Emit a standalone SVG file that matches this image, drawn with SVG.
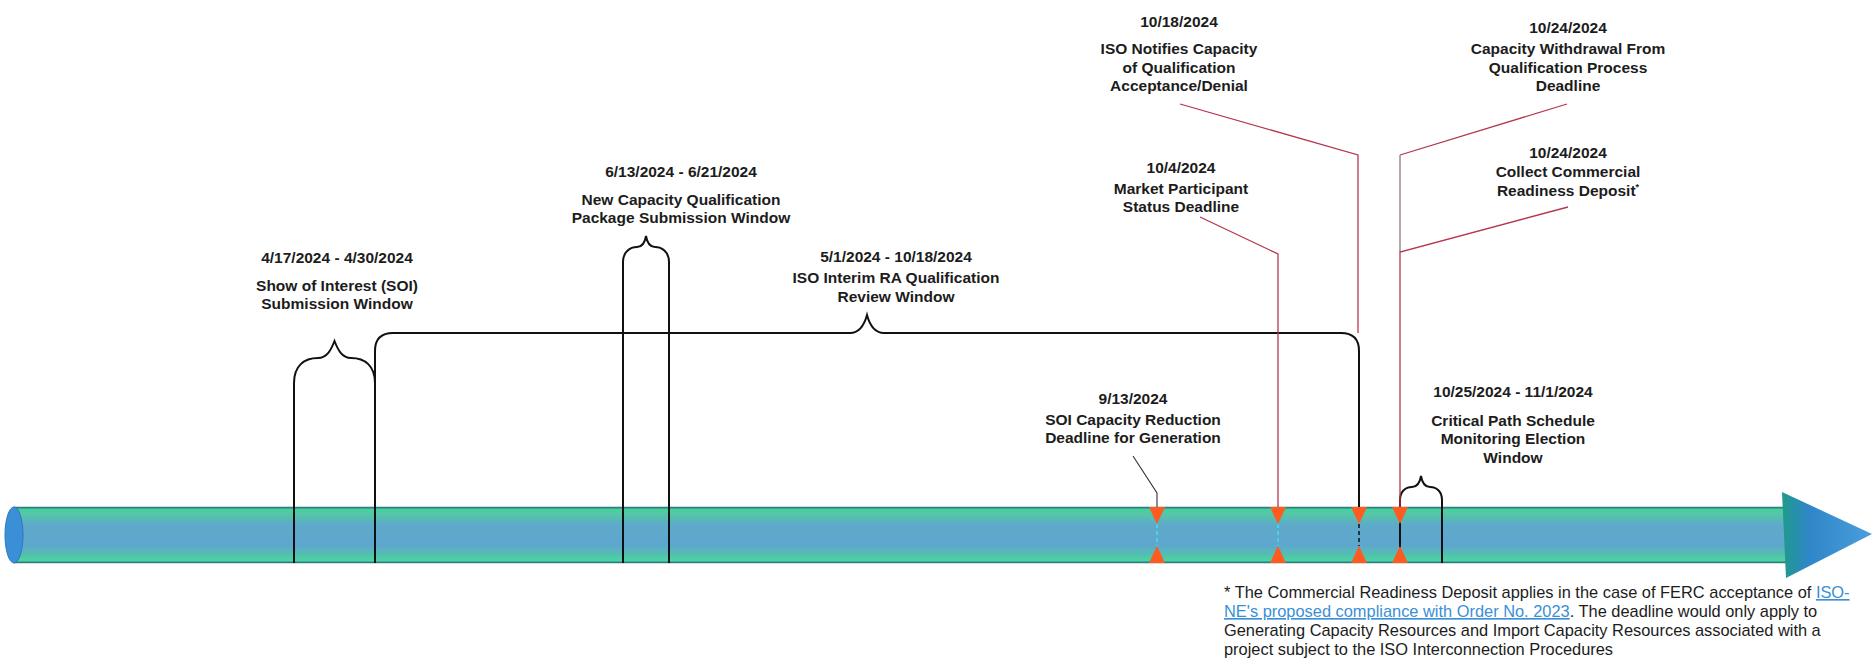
<svg xmlns="http://www.w3.org/2000/svg" width="1872" height="658" viewBox="0 0 1872 658">
<defs>
<linearGradient id="barV" x1="0" y1="0" x2="0" y2="1">
<stop offset="0" stop-color="#2f7b8a"/>
<stop offset="0.04" stop-color="#45d29b"/>
<stop offset="0.13" stop-color="#55c6a6"/>
<stop offset="0.32" stop-color="#5eaaca"/>
<stop offset="0.68" stop-color="#5ea6ce"/>
<stop offset="0.87" stop-color="#53c2ad"/>
<stop offset="0.96" stop-color="#48d89c"/>
<stop offset="1" stop-color="#2f7b8a"/>
</linearGradient>
<linearGradient id="headG" x1="0" y1="0" x2="1" y2="0">
<stop offset="0" stop-color="#1f9a8c"/>
<stop offset="0.3" stop-color="#2f86c8"/>
<stop offset="1" stop-color="#4a9edc"/>
</linearGradient>
<style>
.lbl{font-family:"Liberation Sans",Arial,sans-serif;font-weight:bold;font-size:15.5px;fill:#1c1c1c;text-anchor:middle}
.foot{font-family:"Liberation Sans",Arial,sans-serif;font-size:16.4px;fill:#1c1c1c}
.link{fill:#3a8fd6;text-decoration:underline}
.brk{fill:none;stroke:#111;stroke-width:2}
.tick{stroke:#111;stroke-width:2}
.lead{fill:none;stroke:#b5364f;stroke-width:1.3}
.leadg{fill:none;stroke:#8a7a80;stroke-width:1.3}
.leadk{fill:none;stroke:#333;stroke-width:1.1}
.tri{fill:#ff5a1f}
.dash{stroke:#4fd6f0;stroke-width:1.5;stroke-dasharray:4 3}
</style>
</defs>
<rect width="1872" height="658" fill="#ffffff"/>

<g id="timeline">
<rect x="14" y="507" width="1774" height="56" fill="url(#barV)"/>
<line x1="14" y1="507.5" x2="1788" y2="507.5" stroke="#2f7b8a" stroke-width="1.5"/>
<line x1="14" y1="562.5" x2="1788" y2="562.5" stroke="#2f7b8a" stroke-width="1.5"/>
<ellipse cx="14" cy="535" rx="9" ry="28" fill="#3b8fd6" stroke="#2c78b8" stroke-width="1"/>
<polygon points="1782,492 1872,534 1786,578" fill="url(#headG)"/>
</g>

<g id="connectors">
<line class="tick" x1="294" y1="505" x2="294" y2="563"/>
<line class="tick" x1="375" y1="505" x2="375" y2="563"/>
<line class="tick" x1="623" y1="505" x2="623" y2="563"/>
<line class="tick" x1="669" y1="505" x2="669" y2="563"/>
<line class="tick" x1="1400" y1="505" x2="1400" y2="563"/>
<line class="tick" x1="1442" y1="505" x2="1442" y2="563"/>
<line x1="1359" y1="524" x2="1359" y2="546" stroke="#111" stroke-width="1.5" stroke-dasharray="4 3"/>
<path class="brk" d="M294,507 V383 C294,366 304,358 318,358 C327,358 331,350 334.5,341 C338,350 342,358 351,358 C365,358 375,366 375,383 V507"/>
<path class="brk" d="M623,507 V262 C623,252 630,247 637,247 C642,247 645,242 646,236 C647,242 650,247 655,247 C662,247 669,252 669,262 V507"/>
<path class="brk" d="M375,383 V351 Q375,333 393,333 H850 C859,333 864,326 867,315 C870,326 875,333 884,333 H1341 Q1359,333 1359,351 V507"/>
<path class="brk" d="M1400,507 V500 C1400,492 1405,487 1412,487 C1417,487 1420,482 1421,476 C1422,482 1425,487 1430,487 C1437,487 1442,492 1442,500 V507"/>
<polyline class="leadk" points="1133,456 1157,493 1157,507"/>
<polyline class="lead" points="1200,217 1278,254 1278,507"/>
<polyline class="lead" points="1180,104 1358,155 1358,333"/>
<polyline class="lead" points="1567,104 1400,155"/>
<polyline class="leadg" points="1400,155 1400,252"/>
<polyline class="lead" points="1568,207 1400,252 1400,507"/>
<line class="dash" x1="1157" y1="524" x2="1157" y2="546"/>
<line class="dash" x1="1278" y1="524" x2="1278" y2="546"/>
<polygon class="tri" points="1149,507 1165,507 1157,524"/>
<polygon class="tri" points="1149,563 1165,563 1157,546"/>
<polygon class="tri" points="1270,507 1286,507 1278,524"/>
<polygon class="tri" points="1270,563 1286,563 1278,546"/>
<polygon class="tri" points="1351,507 1367,507 1359,524"/>
<polygon class="tri" points="1351,563 1367,563 1359,546"/>
<polygon class="tri" points="1392,507 1408,507 1400,524"/>
<polygon class="tri" points="1392,563 1408,563 1400,546"/>
</g>

<g id="soi-window">
<text class="lbl" x="337" y="263">4/17/2024 - 4/30/2024</text>
<text class="lbl" x="337" y="291">Show of Interest (SOI)</text>
<text class="lbl" x="337" y="309">Submission Window</text>
</g>
<g id="new-capacity">
<text class="lbl" x="681" y="177">6/13/2024 - 6/21/2024</text>
<text class="lbl" x="681" y="205">New Capacity Qualification</text>
<text class="lbl" x="681" y="223">Package Submission Window</text>
</g>
<g id="review-window">
<text class="lbl" x="896" y="262">5/1/2024 - 10/18/2024</text>
<text class="lbl" x="896" y="283">ISO Interim RA Qualification</text>
<text class="lbl" x="896" y="302">Review Window</text>
</g>
<g id="soi-reduction">
<text class="lbl" x="1133" y="404">9/13/2024</text>
<text class="lbl" x="1133" y="425">SOI Capacity Reduction</text>
<text class="lbl" x="1133" y="443">Deadline for Generation</text>
</g>
<g id="mp-status">
<text class="lbl" x="1181" y="173">10/4/2024</text>
<text class="lbl" x="1181" y="194">Market Participant</text>
<text class="lbl" x="1181" y="212">Status Deadline</text>
</g>
<g id="iso-notifies">
<text class="lbl" x="1179" y="27">10/18/2024</text>
<text class="lbl" x="1179" y="54">ISO Notifies Capacity</text>
<text class="lbl" x="1179" y="73">of Qualification</text>
<text class="lbl" x="1179" y="91">Acceptance/Denial</text>
</g>
<g id="withdrawal">
<text class="lbl" x="1568" y="33">10/24/2024</text>
<text class="lbl" x="1568" y="54">Capacity Withdrawal From</text>
<text class="lbl" x="1568" y="73">Qualification Process</text>
<text class="lbl" x="1568" y="91">Deadline</text>
</g>
<g id="deposit">
<text class="lbl" x="1568" y="158">10/24/2024</text>
<text class="lbl" x="1568" y="177">Collect Commercial</text>
<text class="lbl" x="1568" y="196">Readiness Deposit<tspan font-size="9" dy="-6">*</tspan></text>
</g>
<g id="critical-path">
<text class="lbl" x="1513" y="397">10/25/2024 - 11/1/2024</text>
<text class="lbl" x="1513" y="426">Critical Path Schedule</text>
<text class="lbl" x="1513" y="444">Monitoring Election</text>
<text class="lbl" x="1513" y="463">Window</text>
</g>
<g id="footnote">
<text class="foot" x="1224" y="598">* The Commercial Readiness Deposit applies in the case of FERC acceptance of <tspan class="link">ISO-</tspan></text>
<text class="foot" x="1224" y="617"><tspan class="link">NE's proposed compliance with Order No. 2023</tspan>. The deadline would only apply to</text>
<text class="foot" x="1224" y="636">Generating Capacity Resources and Import Capacity Resources associated with a</text>
<text class="foot" x="1224" y="655">project subject to the ISO Interconnection Procedures</text>
</g>
</svg>
